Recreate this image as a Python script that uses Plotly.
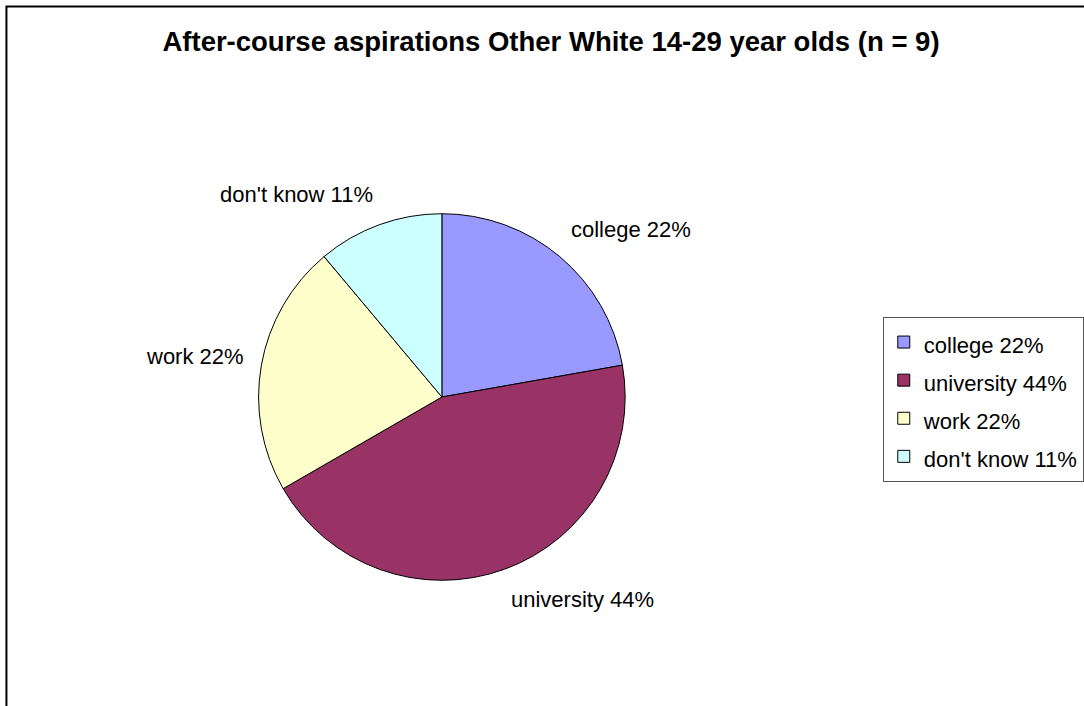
import math
import plotly.graph_objects as go

categories = ["college", "university", "work", "don't know"]
values = [2, 4, 2, 1]
colors = ["#9999FF", "#993366", "#FFFFCC", "#CCFFFF"]
title_text = "After-course aspirations Other White 14-29 year olds (n = 9)"

total = sum(values)
labels = [f"{c} {round(v / total * 100)}%" for c, v in zip(categories, values)]
legend_labels = [f'<span style="font-size:22px">{t}</span>' for t in labels]

W, H = 1084, 706
cx, cy, r = 446, 397, 185
FONT = "Liberation Sans, Arial"

fig = go.Figure(go.Pie(
    labels=legend_labels,
    values=values,
    sort=False,
    direction="clockwise",
    rotation=0,
    marker=dict(colors=colors, line=dict(color="black", width=1)),
    textinfo="none",
    showlegend=True,
    domain=dict(x=[(cx - r) / W, (cx + r) / W], y=[(H - cy - r) / H, (H - cy + r) / H]),
    hoverinfo="label+value",
))

# outside data labels, placed at each slice's mid-angle
annotations = []
R = r * 1.09
cum = 0
for lab, v in zip(labels, values):
    theta = (cum + v / 2) / total * 2 * math.pi
    cum += v
    s, c = math.sin(theta), math.cos(theta)
    px = cx + R * s
    py = cy - R * c
    xa = "left" if s > 0.1 else ("right" if s < -0.1 else "center")
    ya = "bottom" if c > 0.5 else ("top" if c < -0.5 else "middle")
    if ya == "middle":
        py -= 5
    annotations.append(dict(
        x=px / W, y=(H - py) / H, xref="paper", yref="paper",
        text=lab, showarrow=False, xanchor=xa, yanchor=ya,
        font=dict(family=FONT, size=22, color="black"),
        borderpad=0,
    ))

fig.update_layout(
    width=W, height=H,
    margin=dict(l=0, r=0, t=0, b=0),
    paper_bgcolor="white",
    plot_bgcolor="white",
    font=dict(family=FONT, color="black"),
    title=dict(
        text=f"<b>{title_text}</b>",
        font=dict(family=FONT, size=27.5, color="black"),
        x=551 / W, xanchor="center",
        y=1 - 41 / H, yanchor="middle", yref="container", xref="container",
    ),
    legend=dict(
        x=891 / W, xanchor="left",
        y=1 - 317 / H, yanchor="top",
        bordercolor="#555555", borderwidth=1,
        bgcolor="white",
        font=dict(family=FONT, size=27, color="black"),
    ),
    annotations=annotations,
    shapes=[dict(
        type="rect", xref="paper", yref="paper",
        x0=6.5 / W, x1=1.05, y0=-0.05, y1=1 - 6.5 / H,
        line=dict(color="black", width=2), fillcolor="rgba(0,0,0,0)",
    )],
)

fig.write_html("out.html")
